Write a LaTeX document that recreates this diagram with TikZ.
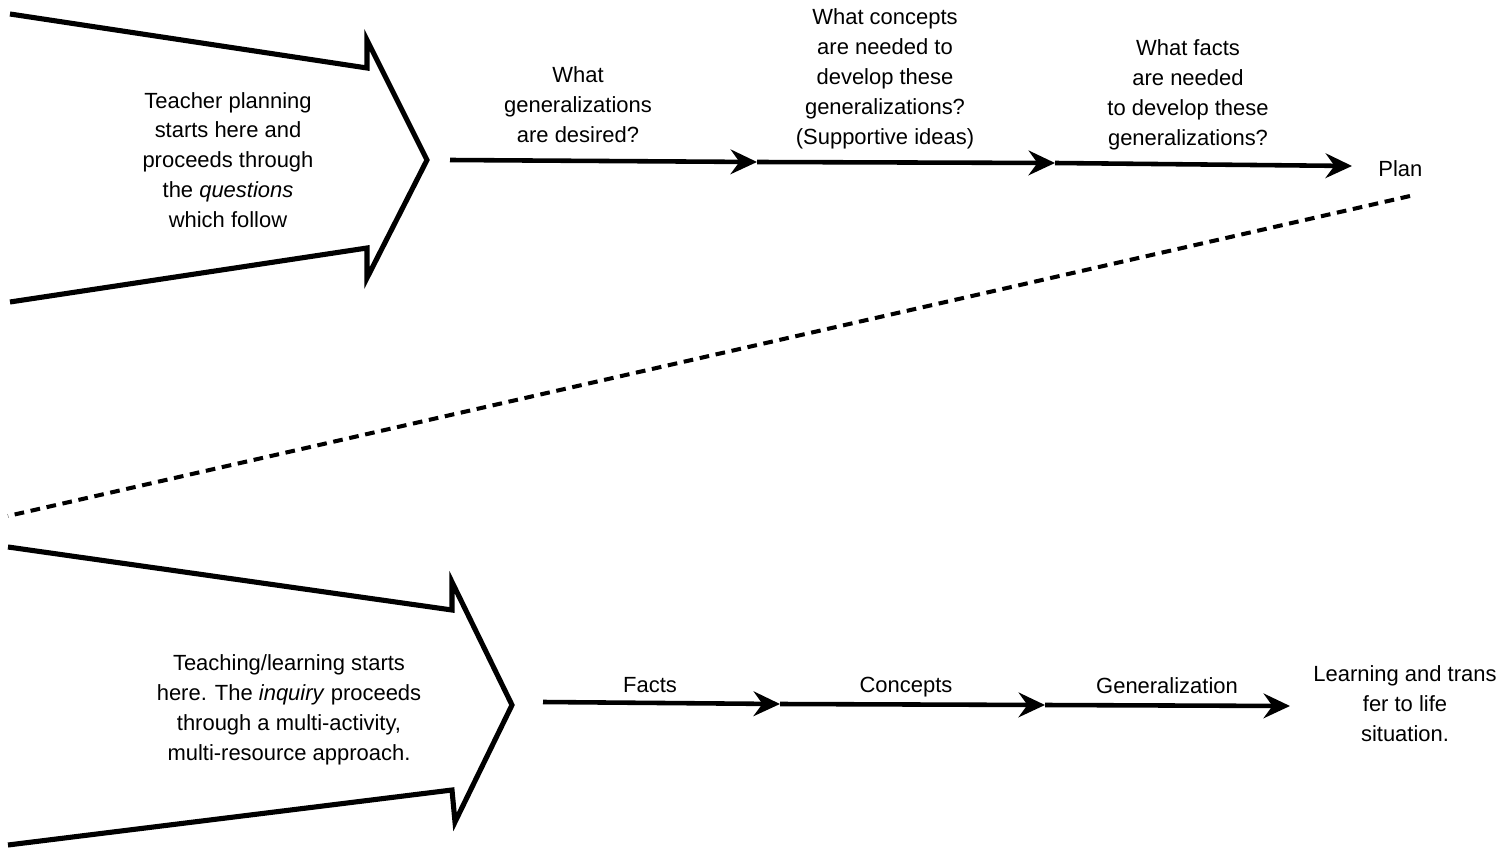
\documentclass[tikz,border=0pt]{standalone}
\usepackage{fontspec}
\setmainfont{Liberation Sans}
\usetikzlibrary{arrows.meta}
\begin{document}
\begin{tikzpicture}[x=0.02cm,y=-0.02cm,
  txt/.style={align=center,inner sep=0pt,font=\fontsize{12.5}{17}\selectfont},
  bigarrow/.style={line width=2.9pt,line join=miter,line cap=butt},
  flow/.style={line width=2.6pt,-{Stealth[length=15pt,width=14pt,inset=5pt]}},
  divider/.style={line width=2.3pt,dash pattern=on 5.5pt off 3.8pt}]
\useasboundingbox (0,0) rectangle (1500,854);
% upper big arrow
\draw[bigarrow] (10,14) -- (367,68) -- (367,40) -- (427,160) -- (367,278) -- (367,248) -- (10,302);
\node[txt] (tplan) at (228,160) {Teacher planning\\starts here and\\proceeds through\\the \textit{questions}\\which follow};
% upper flow
\coordinate (t0) at (450,160);
\coordinate (t1) at (757,162);
\coordinate (t2) at (1055,163);
\coordinate (t3) at (1352,166);
\node[txt,anchor=west] (plan) at (1378,169) {Plan};
\draw[flow] (t0) -- (t1);
\draw[flow] (t1) -- (t2);
\draw[flow] (t2) -- (t3);
\node[txt] (q1) at (578,105) {What\\generalizations\\are desired?};
\node[txt] (q2) at (885,79) {What concepts\\are needed to\\develop these\\generalizations?\\(Supportive ideas)};
\node[txt] (q3) at (1188,95) {What facts\\are needed\\to develop these\\generalizations?};
% dashed divider
\coordinate (d0) at (1410,196);
\coordinate (d1) at (8,516);
\draw[divider] (d0) -- (d1);
% lower big arrow
\draw[bigarrow] (8,547) -- (452,610) -- (452,582) -- (512,705) -- (455,822) -- (452,790) -- (8,845);
\node[txt] (teach) at (289,710) {Teaching/learning starts\\here. The \textit{inquiry} proceeds\\through a multi-activity,\\multi-resource approach.};
% lower flow
\coordinate (b0) at (543,702);
\coordinate (b1) at (780,704);
\coordinate (b2) at (1045,705);
\coordinate (b3) at (1290,706);
\draw[flow] (b0) -- (b1);
\draw[flow] (b1) -- (b2);
\draw[flow] (b2) -- (b3);
\node[txt,anchor=base] (facts) at (650,692) {Facts};
\node[txt,anchor=base] (concepts) at (906,692) {Concepts};
\node[txt,anchor=base] (gen) at (1167,693) {Generalization};
\node[txt] (learn) at (1405,704) {Learning and trans\\fer to life\\situation.};
\end{tikzpicture}
\end{document}
